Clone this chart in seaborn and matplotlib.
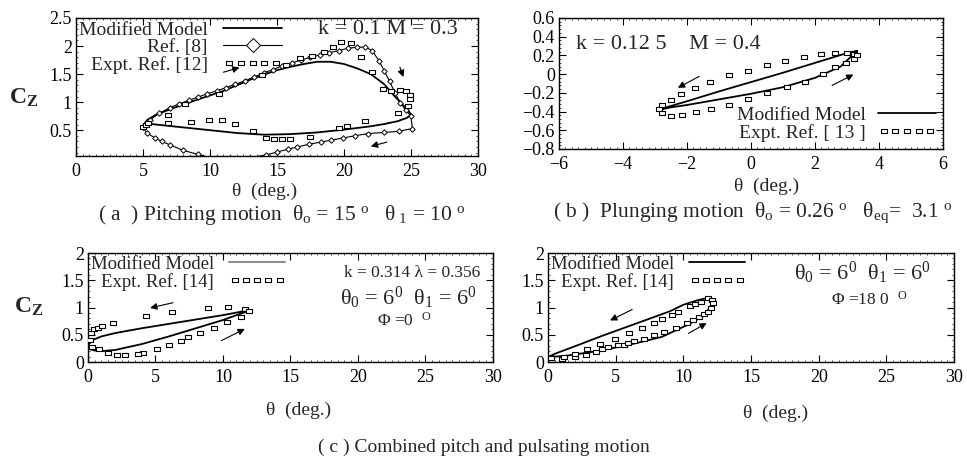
import matplotlib
matplotlib.use('Agg')
import matplotlib.pyplot as plt
from matplotlib.ticker import AutoMinorLocator
import seaborn as sns

# ---- (a) pitching motion, k = 0.1, M = 0.3
a_model_theta = [5.0, 5.3, 6, 7, 8, 9, 10, 11, 12, 13, 14, 15, 16, 17, 18, 19, 20, 21, 22, 23,
                 23.8, 24.4, 24.8, 25.0, 24.7, 24, 23, 22, 20, 18, 16, 14, 12, 10, 8, 6, 5.3, 5.0]
a_model_cz = [0.58, 0.68, 0.78, 0.87, 0.96, 1.04, 1.12, 1.2, 1.3, 1.4, 1.49, 1.57, 1.63, 1.68, 1.72, 1.72,
              1.68, 1.6, 1.5, 1.32, 1.1, 0.95, 0.85, 0.78, 0.72, 0.66, 0.61, 0.57, 0.51, 0.46, 0.43,
              0.42, 0.45, 0.5, 0.55, 0.6, 0.62, 0.58]
a_ref_theta = [5.0, 5.5, 6.2, 7.0, 7.7, 8.4, 9.1, 9.8, 10.5, 11.2, 11.9, 12.6, 13.3, 14.0, 14.7, 15.4,
               16.1, 16.8, 17.5, 18.2, 18.9, 19.6, 20.3, 21.0, 21.6, 22.1, 22.6, 23.0, 23.4, 23.8,
               24.2, 24.6, 25.0, 25.1, 24.1, 23.0, 21.8, 20.8, 19.9, 19.0, 18.3, 17.4, 16.5, 15.8,
               15.0, 14.2, 13.0, 11.5, 10.0, 9.1, 8.0, 7.0, 6.4, 5.9, 5.3, 5.0]
a_ref_cz = [0.55, 0.68, 0.8, 0.9, 0.97, 1.03, 1.09, 1.15, 1.2, 1.26, 1.32, 1.38, 1.45, 1.52, 1.58, 1.65,
            1.7, 1.75, 1.8, 1.84, 1.88, 1.92, 1.96, 1.98, 1.98, 1.92, 1.74, 1.56, 1.37, 1.17,
            0.99, 0.86, 0.75, 0.53, 0.48, 0.46, 0.44, 0.4, 0.36, 0.32, 0.29, 0.25, 0.2, 0.16,
            0.11, 0.06, 0.01, 0.0, 0.01, 0.07, 0.14, 0.24, 0.3, 0.36, 0.45, 0.55]
a_expt_theta = [5.0, 5.2, 5.4, 6.9, 8.1, 10.7, 13.9, 15.7, 16.7, 17.6, 18.5, 19.2, 19.8, 20.5, 21.3,
                22.1, 22.9, 23.5, 24.2, 24.6, 24.9, 24.9, 24.8, 24.0, 21.6, 20.2, 19.6, 17.5, 16.0,
                15.4, 14.8, 14.2, 13.2, 11.9, 10.9, 9.9, 8.6, 6.9]
a_expt_cz = [0.56, 0.6, 0.62, 0.77, 0.97, 1.15, 1.48, 1.66, 1.78, 1.82, 1.9, 1.98, 2.07, 2.05, 1.8,
             1.53, 1.24, 1.19, 1.22, 1.2, 1.13, 1.06, 0.93, 0.81, 0.67, 0.57, 0.54, 0.38, 0.34,
             0.34, 0.34, 0.36, 0.49, 0.61, 0.68, 0.68, 0.65, 0.62]

# ---- (b) plunging motion, k = 0.125, M = 0.4
b_model_theta = [3.32, 3.0, 2.0, 1.0, 0.0, -1.0, -2.0, -2.5, -2.87, -2.5, -2.0, -1.0, 0.0, 1.0, 2.0, 2.8, 3.32]
b_model_cz = [0.25, 0.225, 0.12, 0.015, -0.085, -0.185, -0.29, -0.34, -0.38, -0.355, -0.33, -0.27,
              -0.21, -0.14, -0.04, 0.08, 0.25]
b_expt_theta = [3.23, 3.0, 2.62, 2.2, 1.67, 1.08, 0.49, -0.1, -0.69, -1.28, -1.74, -2.2, -2.51, -2.77,
                -2.87, -2.77, -2.51, -2.15, -1.71, -1.26, -0.69, -0.1, 0.51, 1.13, 1.69, 2.24, 2.64,
                2.97, 3.23, 3.33]
b_expt_cz = [0.215, 0.223, 0.223, 0.215, 0.187, 0.144, 0.098, 0.037, -0.009, -0.08, -0.145, -0.215,
             -0.28, -0.33, -0.375, -0.42, -0.447, -0.436, -0.41, -0.375, -0.33, -0.27, -0.2, -0.14,
             -0.08, 0.0, 0.08, 0.12, 0.16, 0.205]

# ---- (c) combined pitch + pulsating, Phi = 0
cl_model_theta = [12.0, 11.5, 10, 8, 6, 4, 2, 1, 0.3, 0.0, 0.1, 0.5, 1, 2, 4, 6, 8, 10, 11, 11.7, 12.0]
cl_model_cz = [0.95, 0.93, 0.86, 0.78, 0.7, 0.62, 0.53, 0.47, 0.4, 0.3, 0.24, 0.21, 0.2, 0.22, 0.33,
               0.47, 0.62, 0.77, 0.86, 0.92, 0.95]
cl_expt_theta = [0.15, 0.22, 0.47, 0.76, 1.05, 1.86, 4.26, 6.23, 8.9, 10.37, 11.62, 11.96, 11.3, 10.27,
                 9.34, 8.31, 7.38, 6.89, 6.03, 5.12, 4.07, 3.7, 2.72, 2.18, 1.45, 0.81, 0.27]
cl_expt_cz = [0.4, 0.54, 0.6, 0.63, 0.66, 0.72, 0.84, 0.91, 1.0, 1.01, 0.98, 0.94, 0.83, 0.73, 0.62,
              0.54, 0.45, 0.39, 0.31, 0.23, 0.17, 0.15, 0.13, 0.13, 0.17, 0.24, 0.27]

# ---- (c) combined pitch + pulsating, Phi = 180
cr_model_theta = [12.05, 11.5, 11.0, 10.0, 9.0, 8.0, 6.0, 4.0, 2.0, 0.5, 0.0, 0.5, 1.2, 3.4, 5.9, 8.4,
                  10.3, 11.6, 12.17, 12.05]
cr_model_cz = [1.17, 1.16, 1.13, 1.05, 0.93, 0.84, 0.66, 0.48, 0.29, 0.15, 0.09, 0.1, 0.11, 0.19, 0.31,
               0.46, 0.68, 0.86, 1.1, 1.17]
cr_expt_theta = [0.2, 1.06, 1.19, 1.98, 1.98, 2.79, 3.53, 4.0, 4.44, 5.19, 5.58, 5.93, 6.37, 7.06, 7.8,
                 8.59, 9.46, 10.27, 10.69, 11.19, 11.56, 11.8, 12.05,
                 2.91, 3.85, 4.94, 6.0, 6.94, 7.85, 8.4, 9.14, 9.63, 10.47, 10.86, 11.31, 11.8,
                 12.12, 12.22]
cr_expt_cz = [0.07, 0.06, 0.084, 0.095, 0.156, 0.132, 0.187, 0.23, 0.27, 0.32, 0.31, 0.355, 0.39,
              0.415, 0.49, 0.55, 0.63, 0.72, 0.77, 0.83, 0.875, 0.92, 0.985,
              0.238, 0.324, 0.43, 0.53, 0.63, 0.72, 0.78, 0.857, 0.92, 1.02, 1.07, 1.1, 1.17,
              1.14, 1.08]

# tick labels
a_xticks = [0, 5, 10, 15, 20, 25, 30]
a_yticks = [0.5, 1, 1.5, 2, 2.5]
b_xticks = [-6, -4, -2, 0, 2, 4, 6]
b_xlabels = ['\u22126', '\u22124', '\u22122', '0', '2', '4', '6']
b_yticks = [-0.8, -0.6, -0.4, -0.2, 0, 0.2, 0.4, 0.6]
b_ylabels = ['\u22120.8', '\u22120.6', '\u22120.4', '\u22120.2', '0', '0.2', '0.4', '0.6']
c_yticks = [0, 0.5, 1, 1.5, 2]

sns.set_style('ticks')
plt.rcParams['font.family'] = ['Liberation Serif', 'DejaVu Serif']
plt.rcParams['mathtext.fontset'] = 'custom'
plt.rcParams['mathtext.rm'] = 'Liberation Serif'
plt.rcParams['mathtext.it'] = 'Liberation Serif:italic'
plt.rcParams['mathtext.bf'] = 'Liberation Serif:bold'

rect = [(-1.5, -1), (1.5, -1), (1.5, 1), (-1.5, 1), (-1.5, -1)]
line_kw = dict(sort=False, estimator=None, color='black', linewidth=1.3)
sq_kw = dict(marker=rect, s=18, color='white', edgecolor='black', linewidth=0.8, zorder=3)
arrow_kw = dict(arrowstyle='-|>', color='black', lw=0.8, mutation_scale=10)
leg_kw = dict(frameon=False, markerfirst=False, handlelength=3.0, labelspacing=0.0,
              borderpad=0.05, scatterpoints=5, scatteryoffsets=[0.5])


def style_axes(ax, xlim, ylim, xt, xl, yt, yl, lab_x, lab_y):
    ax.set_xlim(xlim)
    ax.set_ylim(ylim)
    ax.set_xticks(xt, xl)
    ax.set_yticks(yt, yl)
    ax.xaxis.set_minor_locator(AutoMinorLocator(10))
    ax.yaxis.set_minor_locator(AutoMinorLocator(5))
    ax.tick_params(which='both', direction='in', top=True, right=True, labelsize=13, pad=3,
                   color='black', labelcolor='black')
    ax.tick_params(which='major', length=5, width=0.8)
    ax.tick_params(which='minor', length=1.5, width=0.5)
    ax.tick_params(axis='x', pad=5)
    for s in ax.spines.values():
        s.set_linewidth(1)
        s.set_color('black')
    ax.set_xlabel('\u03b8  (deg.)', fontsize=14)
    ax.xaxis.set_label_coords(lab_x, lab_y)
    ax.set_ylabel('')


fig = plt.figure(figsize=(9.67, 4.65), dpi=100)
ax_a = fig.add_axes([0.0786, 0.6645, 0.4157, 0.2968])
ax_b = fig.add_axes([0.578, 0.6796, 0.3971, 0.2817])
ax_cl = fig.add_axes([0.091, 0.2215, 0.4188, 0.2344])
ax_cr = fig.add_axes([0.5667, 0.2215, 0.4199, 0.2344])

# (a)
sns.lineplot(x=a_model_theta, y=a_model_cz, ax=ax_a, label='Modified Model', **line_kw)
sns.lineplot(x=a_ref_theta, y=a_ref_cz, ax=ax_a, label='Ref. [8]', sort=False, estimator=None,
             color='black', linewidth=0.8, marker='D', markersize=2.8, markerfacecolor='white',
             markeredgecolor='black', markeredgewidth=0.7)
sns.scatterplot(x=a_expt_theta, y=a_expt_cz, ax=ax_a, label='Expt. Ref. [12]', **sq_kw)
style_axes(ax_a, (0, 30), (0.04, 2.5), a_xticks, [str(t) for t in a_xticks], a_yticks,
           ['0.5', '1', '1.5', '2', '2.5'], 0.47, -0.19)
ax_a.text(0.775, 0.92, 'k = 0.1 M = 0.3', transform=ax_a.transAxes, fontsize=16, ha='center', va='center')
ax_a.annotate('', xy=(12.4, 1.63), xytext=(10.8, 1.52), arrowprops=arrow_kw)
ax_a.annotate('', xy=(24.5, 1.4), xytext=(24.1, 1.67), arrowprops=arrow_kw)
ax_a.annotate('', xy=(21.8, 0.2), xytext=(23.4, 0.3), arrowprops=arrow_kw)
leg_a = ax_a.legend(loc='upper left', bbox_to_anchor=(0.0, 1.0), handletextpad=0.8,
                    borderaxespad=0.1, fontsize=14, **leg_kw)
leg_a.legend_handles[1].set_markersize(7)
leg_a.legend_handles[2].set_sizes([14])

# (b)
sns.lineplot(x=b_model_theta, y=b_model_cz, ax=ax_b, label='Modified Model', **line_kw)
sns.scatterplot(x=b_expt_theta, y=b_expt_cz, ax=ax_b, label='Expt. Ref. [ 13 ]', **sq_kw)
style_axes(ax_b, (-6, 6), (-0.8, 0.6), b_xticks, b_xlabels, b_yticks, b_ylabels, 0.54, -0.22)
ax_b.text(0.285, 0.795, 'k = 0.12 5    M = 0.4', transform=ax_b.transAxes, fontsize=16,
          ha='center', va='center')
ax_b.annotate('', xy=(-2.36, -0.16), xytext=(-1.54, -0.01), arrowprops=arrow_kw)
ax_b.annotate('', xy=(3.28, 0.01), xytext=(2.46, -0.134), arrowprops=arrow_kw)
leg_b = ax_b.legend(loc='lower right', bbox_to_anchor=(1.0, 0.0), handletextpad=0.6,
                    borderaxespad=0.3, fontsize=14, **leg_kw)
leg_b.legend_handles[1].set_sizes([14])

# (c) left
sns.lineplot(x=cl_model_theta, y=cl_model_cz, ax=ax_cl, label='Modified Model', **line_kw)
sns.scatterplot(x=cl_expt_theta, y=cl_expt_cz, ax=ax_cl, label='Expt. Ref. [14]', **sq_kw)
style_axes(ax_cl, (0, 30), (0, 2), a_xticks, [str(t) for t in a_xticks], c_yticks,
           ['0', '0.5', '1', '1.5', '2'], 0.52, -0.36)
ax_cl.text(0.80, 0.815, 'k = 0.314 \u03bb = 0.356', transform=ax_cl.transAxes, fontsize=12.5,
           ha='center', va='center')
ax_cl.text(0.79, 0.585, '\u03b8$_0$ = 6$^0$  \u03b8$_1$ = 6$^0$', transform=ax_cl.transAxes,
           fontsize=16, ha='center', va='center')
ax_cl.text(0.78, 0.38, '\u03a6 =0  $^{\\rm O}$', transform=ax_cl.transAxes, fontsize=12.5,
           ha='center', va='center')
ax_cl.annotate('', xy=(4.4, 0.98), xytext=(6.5, 1.1), arrowprops=arrow_kw)
ax_cl.annotate('', xy=(11.8, 0.63), xytext=(9.7, 0.37), arrowprops=arrow_kw)
leg_cl = ax_cl.legend(loc='upper left', bbox_to_anchor=(0.0, 1.0), handletextpad=0.8,
                      borderaxespad=0.1, fontsize=13.5, **leg_kw)
leg_cl.legend_handles[0].set_color('0.5')
leg_cl.legend_handles[1].set_sizes([14])

# (c) right
sns.lineplot(x=cr_model_theta, y=cr_model_cz, ax=ax_cr, label='Modified Model', **line_kw)
sns.scatterplot(x=cr_expt_theta, y=cr_expt_cz, ax=ax_cr, label='Expt. Ref. [14]', **sq_kw)
style_axes(ax_cr, (0, 30), (0, 2), a_xticks, [str(t) for t in a_xticks], c_yticks,
           ['0', '0.5', '1', '1.5', '2'], 0.56, -0.39)
ax_cr.text(0.775, 0.815, '\u03b8$_0$ = 6$^0$  \u03b8$_1$ = 6$^0$', transform=ax_cr.transAxes,
           fontsize=16, ha='center', va='center')
ax_cr.text(0.79, 0.57, '\u03a6 =18 0  $^{\\rm O}$', transform=ax_cr.transAxes, fontsize=12.5,
           ha='center', va='center')
ax_cr.annotate('', xy=(4.4, 0.74), xytext=(6.4, 0.985), arrowprops=arrow_kw)
ax_cr.annotate('', xy=(11.9, 0.74), xytext=(10.2, 0.5), arrowprops=arrow_kw)
leg_cr = ax_cr.legend(loc='upper left', bbox_to_anchor=(0.0, 1.0), handletextpad=0.8,
                      borderaxespad=0.1, fontsize=13.5, **leg_kw)
leg_cr.legend_handles[1].set_sizes([14])

# C_Z labels and captions
fig.text(0.024, 0.79, r'$\mathbf{C_Z}$', fontsize=17, ha='center', va='center')
fig.text(0.03, 0.34, r'$\mathbf{C_Z}$', fontsize=17, ha='center', va='center')
fig.text(0.291, 0.537, '( a  ) Pitching motion  \u03b8$_{\\rm o}$ = 15 $^{\\rm o}$   \u03b8$_{\\ 1}$ = 10 $^{\\rm o}$',
         fontsize=15.5, ha='center', va='center')
fig.text(0.778, 0.543, '( b )  Plunging motion  \u03b8$_{\\rm o}$ = 0.26 $^{\\rm o}$   \u03b8$_{\\rm eq}$=  3.1 $^{\\rm o}$',
         fontsize=15.5, ha='center', va='center')
fig.text(0.5, 0.039, '( c ) Combined pitch and pulsating motion', fontsize=14, ha='center', va='center')

fig.savefig('out.png', dpi=100, facecolor='white')
